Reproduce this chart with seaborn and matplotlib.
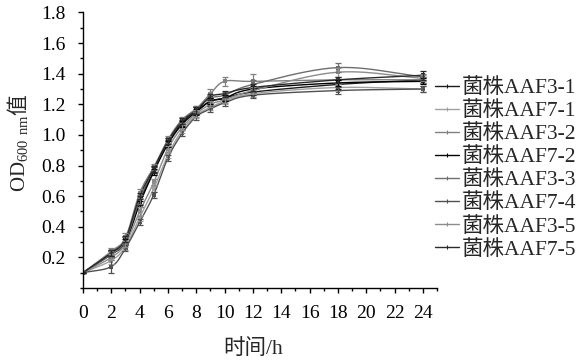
import numpy as np
import pandas as pd
import matplotlib
matplotlib.use("Agg")
import matplotlib.pyplot as plt
import seaborn as sns
from matplotlib.ticker import MultipleLocator, FixedLocator
from matplotlib.lines import Line2D

# ---------------- data ----------------
times = [0, 2, 3, 4, 5, 6, 7, 8, 9, 10, 12, 18, 24]
strains = ["菌株AAF3-1", "菌株AAF7-1", "菌株AAF3-2", "菌株AAF7-2",
           "菌株AAF3-3", "菌株AAF7-4", "菌株AAF3-5", "菌株AAF7-5"]

od_aaf3_1 = [0.10, 0.23, 0.31, 0.57, 0.77, 0.95, 1.08, 1.16, 1.22, 1.24, 1.28, 1.33, 1.36]
od_aaf7_1 = [0.10, 0.18, 0.27, 0.46, 0.65, 0.87, 1.03, 1.13, 1.18, 1.22, 1.27, 1.31, 1.30]
od_aaf3_2 = [0.10, 0.24, 0.33, 0.62, 0.79, 0.97, 1.10, 1.17, 1.27, 1.35, 1.35, 1.36, 1.36]
od_aaf7_2 = [0.10, 0.22, 0.30, 0.55, 0.76, 0.94, 1.07, 1.15, 1.22, 1.24, 1.30, 1.34, 1.35]
od_aaf3_3 = [0.10, 0.22, 0.31, 0.58, 0.78, 0.96, 1.09, 1.17, 1.24, 1.26, 1.33, 1.44, 1.38]
od_aaf7_4 = [0.10, 0.14, 0.26, 0.43, 0.61, 0.85, 1.01, 1.12, 1.17, 1.21, 1.26, 1.29, 1.30]
od_aaf3_5 = [0.10, 0.20, 0.29, 0.50, 0.69, 0.91, 1.05, 1.14, 1.20, 1.23, 1.29, 1.41, 1.37]
od_aaf7_5 = [0.10, 0.23, 0.32, 0.60, 0.78, 0.96, 1.09, 1.16, 1.25, 1.27, 1.31, 1.36, 1.39]

err_aaf3_1 = [0.005, 0.02, 0.02, 0.03, 0.02, 0.02, 0.02, 0.02, 0.02, 0.02, 0.02, 0.03, 0.02]
err_aaf7_1 = [0.005, 0.02, 0.02, 0.02, 0.02, 0.02, 0.02, 0.02, 0.02, 0.02, 0.02, 0.02, 0.02]
err_aaf3_2 = [0.005, 0.02, 0.03, 0.03, 0.02, 0.02, 0.02, 0.02, 0.03, 0.03, 0.05, 0.02, 0.02]
err_aaf7_2 = [0.005, 0.02, 0.02, 0.02, 0.02, 0.02, 0.02, 0.02, 0.02, 0.02, 0.02, 0.02, 0.02]
err_aaf3_3 = [0.005, 0.02, 0.02, 0.03, 0.02, 0.02, 0.02, 0.02, 0.02, 0.02, 0.03, 0.03, 0.02]
err_aaf7_4 = [0.005, 0.04, 0.02, 0.02, 0.02, 0.02, 0.02, 0.02, 0.02, 0.02, 0.02, 0.02, 0.02]
err_aaf3_5 = [0.005, 0.02, 0.02, 0.03, 0.02, 0.02, 0.02, 0.02, 0.02, 0.02, 0.02, 0.03, 0.02]
err_aaf7_5 = [0.005, 0.02, 0.02, 0.02, 0.02, 0.02, 0.02, 0.02, 0.02, 0.02, 0.02, 0.02, 0.03]

series = [od_aaf3_1, od_aaf7_1, od_aaf3_2, od_aaf7_2, od_aaf3_3, od_aaf7_4, od_aaf3_5, od_aaf7_5]
errors = [err_aaf3_1, err_aaf7_1, err_aaf3_2, err_aaf7_2, err_aaf3_3, err_aaf7_4, err_aaf3_5, err_aaf7_5]
colors = ["#1a1a1a", "#a0a0a0", "#808080", "#000000", "#6e6e6e", "#505050", "#8c8c8c", "#2a2a2a"]

# ---------------- style ----------------
sns.set_theme(style="ticks")
plt.rcParams["font.family"] = ["Liberation Serif", "Noto Sans CJK SC"]
plt.rcParams["mathtext.fontset"] = "custom"
plt.rcParams["mathtext.rm"] = "Liberation Serif"

fig = plt.figure(figsize=(5.82, 3.64), dpi=100)
ax = fig.add_axes([83 / 582, 1 - 288 / 364, (437 - 83) / 582, (288 - 12.5) / 364])


def smooth(x, y, n=24):
    """Parametric Catmull-Rom rendering of the curve through the points."""
    p = np.column_stack([x, y]).astype(float)
    p = np.vstack([p[0] - (p[1] - p[0]), p, p[-1] + (p[-1] - p[-2])])
    out = []
    s = np.linspace(0, 1, n, endpoint=False)[:, None]
    for i in range(1, len(p) - 2):
        p0, p1, p2, p3 = p[i - 1], p[i], p[i + 1], p[i + 2]
        seg = 0.5 * ((2 * p1) + (-p0 + p2) * s + (2 * p0 - 5 * p1 + 4 * p2 - p3) * s ** 2
                     + (-p0 + 3 * p1 - 3 * p2 + p3) * s ** 3)
        out.append(seg)
    out.append(p[-2][None, :])
    out = np.vstack(out)
    return out[:, 0], out[:, 1]


rows = []
for name, vals in zip(strains, series):
    xs, ys = smooth(times, vals)
    for a, b in zip(xs, ys):
        rows.append({"t": a, "od": b, "strain": name})
curves = pd.DataFrame(rows)

pts = pd.DataFrame({
    "t": np.tile(times, len(strains)),
    "od": np.concatenate(series),
    "err": np.concatenate(errors),
    "strain": np.repeat(strains, len(times)),
})

palette = dict(zip(strains, colors))
sns.lineplot(data=curves, x="t", y="od", hue="strain", palette=palette,
             sort=False, estimator=None, linewidth=1.0, ax=ax, legend=False)
for name, c in zip(strains, colors):
    d = pts[pts.strain == name]
    ax.errorbar(d.t, d.od, yerr=d.err, fmt="none", ecolor=c, elinewidth=0.9,
                capsize=2.5, capthick=0.9)
sns.scatterplot(data=pts, x="t", y="od", hue="strain", palette=palette,
                marker="s", s=9, linewidth=0, ax=ax, legend=False)

# legend
handles = [Line2D([], [], color=c, lw=1.0, marker="|", markersize=3, markeredgewidth=0.8)
           for c in colors]
fig.legend(handles, strains, loc="upper left", bbox_to_anchor=(435 / 582, 1 - 78 / 364),
           frameon=False, fontsize=15.5, handlelength=1.1, handletextpad=0.12,
           labelspacing=0.14, borderpad=0, borderaxespad=0)

# axes
ax.set_xlim(0, 25)
ax.set_ylim(0, 1.8)
ax.xaxis.set_major_locator(FixedLocator(list(range(0, 25, 2))))
ax.xaxis.set_minor_locator(MultipleLocator(1))
ax.yaxis.set_major_locator(FixedLocator([0.2, 0.4, 0.6, 0.8, 1.0, 1.2, 1.4, 1.6, 1.8]))
ax.yaxis.set_minor_locator(MultipleLocator(0.1))
ax.set_yticklabels(["0.2", "0.4", "0.6", "0.8", "1.0", "1.2", "1.4", "1.6", "1.8"])
ax.tick_params(axis="both", which="major", direction="out", length=3.5, width=1.0,
               labelsize=14, color="black", labelcolor="black")
ax.tick_params(axis="both", which="minor", direction="out", length=2.2, width=1.0, color="black")
ax.tick_params(axis="y", which="major", pad=9)
ax.tick_params(axis="x", which="major", pad=9)
for s in ["top", "right"]:
    ax.spines[s].set_visible(False)
for s in ["left", "bottom"]:
    ax.spines[s].set_linewidth(1.0)
    ax.spines[s].set_color("black")
ax.set_facecolor("white")

ax.set_xlabel("")
ax.set_ylabel("")
fig.text(253 / 582, 1 - 349 / 364, "时间/h", ha="center", va="center", fontsize=15.5)
fig.text(18 / 582, 1 - 143 / 364, r"$\mathrm{OD}_{\mathrm{600\ nm}}$值", rotation=90,
         ha="center", va="center", fontsize=15, family="Noto Sans CJK SC")

fig.savefig("out.png", dpi=100, facecolor="white")
